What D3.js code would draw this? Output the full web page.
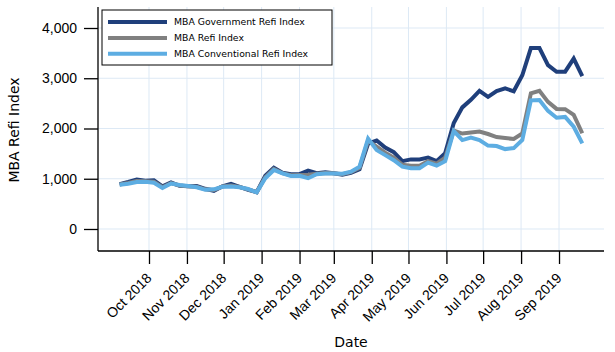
<!DOCTYPE html>
<html>
<head>
<meta charset="utf-8">
<script src="https://d3js.org/d3.v7.min.js"></script>
<style>
  body { margin: 0; background: #fff; }
  svg { display: block; font-family: "DejaVu Sans", sans-serif; }
</style>
</head>
<body>
<div id="myChart"><svg></svg></div>
<script>
// weekly MBA refi survey (week ending Friday)
var weekDates = ["2018-09-07","2018-09-14","2018-09-21","2018-09-28","2018-10-05","2018-10-12","2018-10-19","2018-10-26",
  "2018-11-02","2018-11-09","2018-11-16","2018-11-23","2018-11-30","2018-12-07","2018-12-14","2018-12-21","2018-12-28",
  "2019-01-04","2019-01-11","2019-01-18","2019-01-25","2019-02-01","2019-02-08","2019-02-15","2019-02-22",
  "2019-03-01","2019-03-08","2019-03-15","2019-03-22","2019-03-29","2019-04-05","2019-04-12","2019-04-19","2019-04-26",
  "2019-05-03","2019-05-10","2019-05-17","2019-05-24","2019-05-31","2019-06-07","2019-06-14","2019-06-21","2019-06-28",
  "2019-07-05","2019-07-12","2019-07-19","2019-07-26","2019-08-02","2019-08-09","2019-08-16","2019-08-23","2019-08-30",
  "2019-09-06","2019-09-13","2019-09-20"];

var govRefi = [890,935,985,960,970,850,925,860,850,855,800,760,850,900,840,780,735,
  1060,1220,1120,1090,1090,1160,1110,1130,1110,1080,1120,1190,1700,1760,1620,1530,1350,
  1385,1385,1420,1350,1510,2110,2420,2570,2750,2630,2745,2800,2740,3060,3600,3600,3260,3130,
  3130,3390,3040];

var mbaRefi = [885,915,955,950,940,830,915,865,852,840,790,775,845,865,835,790,732,
  1030,1195,1110,1070,1075,1080,1100,1115,1108,1090,1130,1215,1760,1640,1520,1420,1280,
  1260,1260,1350,1300,1420,1960,1900,1920,1940,1890,1830,1810,1790,1900,2700,2750,2530,2390,
  2385,2270,1905];

var convRefi = [880,900,935,940,920,815,905,875,855,830,780,790,840,845,830,795,730,
  1010,1175,1105,1055,1060,1010,1090,1105,1105,1100,1140,1240,1800,1570,1470,1370,1240,
  1210,1210,1320,1260,1350,1950,1770,1820,1770,1660,1650,1590,1610,1770,2560,2565,2350,2215,
  2230,2035,1705];

var seriesNames = ["MBA Government Refi Index","MBA Refi Index","MBA Conventional Refi Index"];
var seriesColors = ["#1f3f7b","#808080","#5dade2"];

var monthTicks = ["2018-10-01","2018-11-01","2018-12-01","2019-01-01","2019-02-01","2019-03-01",
  "2019-04-01","2019-05-01","2019-06-01","2019-07-01","2019-08-01","2019-09-01"];
var yTicks = [0,1000,2000,3000,4000];

function drawRefiChart() {
    var svg = d3.select("#myChart svg");
    var width = 615, height = 352;
    svg.attr("width", width).attr("height", height);

    var left = 98, right = 604, top = 7, bottom = 251;
    var parse = d3.timeParse("%Y-%m-%d");

    var x = d3.scaleTime()
        .domain([new Date(2018, 7, 20, 8), new Date(2019, 9, 7, 18)])
        .range([left, right]);
    var y = d3.scaleLinear()
        .domain([-438, 4418])
        .range([bottom, top]);

    var tickDates = monthTicks.map(parse);

    // grid
    svg.append("g")
        .selectAll("line")
        .data(yTicks)
        .join("line")
        .attr("x1", left).attr("x2", right)
        .attr("y1", d => y(d)).attr("y2", d => y(d))
        .style("stroke", "#dde9f5");
    svg.append("g")
        .selectAll("line")
        .data(tickDates)
        .join("line")
        .attr("x1", d => x(d)).attr("x2", d => x(d))
        .attr("y1", top).attr("y2", bottom)
        .style("stroke", "#dde9f5");

    // lines
    var lineData = [govRefi, mbaRefi, convRefi].map(function (vals, i) {
        return { name: seriesNames[i], color: seriesColors[i],
                 points: vals.map((v, j) => ({ date: parse(weekDates[j]), value: v })) };
    });
    var line = d3.line().x(d => x(d.date)).y(d => y(d.value));
    svg.append("g")
        .selectAll("path")
        .data(lineData)
        .join("path")
        .attr("d", d => line(d.points))
        .attr("fill", "none")
        .attr("stroke", d => d.color)
        .attr("stroke-width", 4)
        .attr("stroke-linejoin", "miter");

    // axes
    var yAxis = svg.append("g")
        .attr("transform", `translate(${left},0)`)
        .call(d3.axisLeft(y).tickValues(yTicks).tickFormat(d3.format(",")).tickSize(14).tickPadding(7));
    yAxis.select(".domain").attr("d", `M0,${top}V${bottom}`);
    yAxis.selectAll("text").style("font-size", "14px").style("fill", "#000");

    var xAxis = svg.append("g")
        .attr("transform", `translate(0,${bottom})`)
        .call(d3.axisBottom(x).tickValues(tickDates).tickFormat(d3.timeFormat("%b %Y")).tickSize(13));
    xAxis.select(".domain").attr("d", `M${left},0H${right}`);
    xAxis.selectAll("text")
        .attr("y", 0).attr("dy", 0)
        .attr("text-anchor", "end")
        .attr("transform", "translate(3,28) rotate(-45)")
        .style("font-size", "14px").style("fill", "#000");
    svg.selectAll(".domain, .tick line").style("stroke", "#000").style("stroke-width", 1.3);

    // titles
    svg.append("text")
        .attr("transform", "translate(19,130) rotate(-90)")
        .attr("text-anchor", "middle")
        .style("font-size", "14px")
        .text("MBA Refi Index");
    svg.append("text")
        .attr("x", 351).attr("y", 347)
        .attr("text-anchor", "middle")
        .style("font-size", "14px")
        .text("Date");

    // legend
    var legend = svg.append("g");
    legend.append("rect")
        .attr("x", 102).attr("y", 10).attr("width", 230).attr("height", 55)
        .attr("fill", "#fff").attr("stroke", "#000");
    var rows = legend.selectAll("g.row")
        .data(lineData)
        .join("g")
        .attr("class", "row")
        .attr("transform", (d, i) => `translate(0,${[22, 38, 53.7][i]})`);
    rows.append("line")
        .attr("x1", 108).attr("x2", 167)
        .attr("stroke", d => d.color).attr("stroke-width", 4);
    rows.append("text")
        .attr("x", 174).attr("dy", "0.35em")
        .style("font-size", "9.3px")
        .text(d => d.name);
}

drawRefiChart();
</script>
</body>
</html>
